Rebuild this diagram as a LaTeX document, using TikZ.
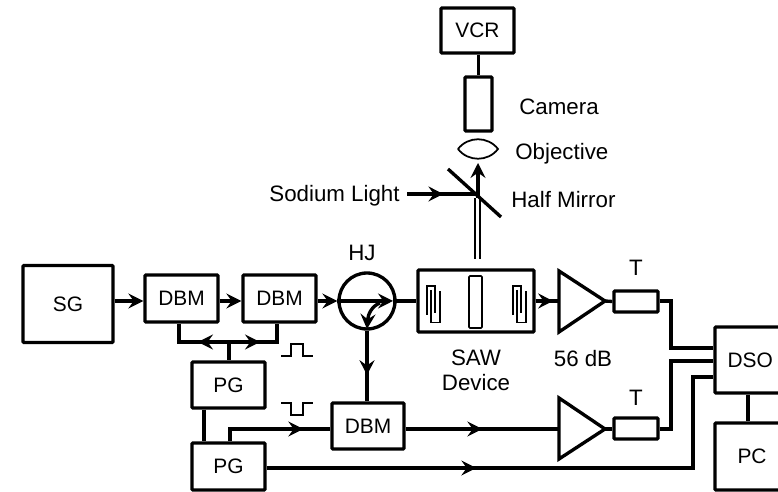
\documentclass[tikz,border=0pt]{standalone}
\usepackage{fontspec}
\setmainfont{Liberation Sans}
\usetikzlibrary{arrows.meta,decorations.markings}
\tikzset{
  blk/.style={draw, line width=1.9pt, rounded corners=0.6pt, inner sep=0pt, font=\fontsize{11.9}{14}\selectfont},
  lbl/.style={inner sep=0pt, font=\fontsize{12.7}{14}\selectfont},
  wire/.style={line width=1.9pt},
  sig/.style={line width=1.9pt, -{Stealth[length=8.5pt,width=8.5pt,inset=3pt]}},
  midtip/.style={line width=1.9pt, postaction={decorate}, decoration={markings,
    mark=at position #1 with {\arrow{Stealth[length=8.5pt,width=8.5pt,inset=3pt]}}}},
  fine/.style={line width=0.7pt}
}
\begin{document}
\begin{tikzpicture}[x=0.02cm,y=-0.02cm]
  \useasboundingbox (0,0) rectangle (778,492);
  \clip (0,0) rectangle (778,492);

  % ---------------- blocks ----------------
  \node[blk, minimum width=1.8cm, minimum height=1.54cm] (sg) at (68,304) {SG};
  \node[blk, minimum width=1.46cm, minimum height=0.94cm] (dbmA) at (181.5,298.5) {DBM};
  \node[blk, minimum width=1.46cm, minimum height=0.94cm] (dbmB) at (279.5,298.5) {DBM};
  \node[blk, minimum width=1.46cm, minimum height=0.92cm] (pgA) at (228.5,385) {PG};
  \node[blk, minimum width=1.46cm, minimum height=0.94cm] (pgB) at (228.5,466.5) {PG};
  \node[blk, minimum width=1.44cm, minimum height=0.92cm] (dbmC) at (368,426) {DBM};
  \node[blk, circle, minimum size=1.12cm] (hj) at (367,301) {};
  \node[blk, minimum width=2.32cm, minimum height=1.24cm] (saw) at (476,301) {};
  \node[blk, line width=0.9pt, minimum width=0.26cm, minimum height=1.04cm] (gate) at (475.5,302) {};
  \node[blk, minimum width=0.88cm, minimum height=0.42cm] (tA) at (636,301.5) {};
  \node[blk, minimum width=0.88cm, minimum height=0.42cm] (tB) at (636,428.5) {};
  \node[blk, minimum width=1.6cm, minimum height=1.32cm, text width=1.3cm, align=left] (dso) at (755,360) {\hspace*{0.1cm}DSO};
  \node[blk, minimum width=1.6cm, minimum height=1.34cm, text width=1.3cm, align=left] (pc) at (755,456.5) {\hspace*{0.3cm}PC};
  \node[blk, minimum width=1.46cm, minimum height=0.9cm] (vcr) at (477.5,30.5) {VCR};
  \node[blk, minimum width=0.54cm, minimum height=1.08cm] (camera) at (478.5,104) {};

  % ---------------- amplifiers ----------------
  \coordinate (ampAin) at (559,301);
  \coordinate (ampAout) at (605,301);
  \coordinate (ampBin) at (559,429);
  \coordinate (ampBout) at (605,429);
  \draw[wire, line join=miter] (559,271) -- (ampAout) -- (559,332) -- cycle;
  \draw[wire, line join=miter] (559,398) -- (ampBout) -- (559,459) -- cycle;

  % ---------------- transducers on the device ----------------
  \foreach \dx in {0,86} {
    \begin{scope}[xshift=\dx*0.02cm]
      \draw[fine] (427,315) -- (427,286) -- (435,286) -- (435,313);
      \draw[fine] (431,290) -- (431,322.5) -- (440,322.5) -- (440,291);
    \end{scope}
  }

  % ---------------- top row ----------------
  \draw[sig] (sg.east |- hj) -- (dbmA.west |- hj);
  \draw[sig] (dbmA.east |- hj) -- (dbmB.west |- hj);
  \draw[sig] (dbmB.east |- hj) -- (hj.west);
  \coordinate (hjTip) at (393,301);
  \draw[sig] (hj.west) -- (hjTip);
  \draw[wire] (hjTip) -- (saw.west);
  \coordinate (curveBeg) at (380,303);
  \coordinate (curveEnd) at (367,329);
  \draw[sig] (curveBeg) .. controls (372,306) and (368,314) .. (curveEnd);
  \draw[midtip=0.63] (hj.south) -- (dbmC.north -| hj);
  \draw[midtip=0.75] (saw.east) -- (ampAin);
  \draw[wire] (ampAout) -- (tA.west);
  \coordinate (kneeA) at (671,301);
  \coordinate (kneeB) at (671,429);
  \draw[wire] (tA.east |- kneeA) -- (kneeA) -- (671,348) -- (dso.west |- 0,348);
  \draw[wire] (tB.east |- kneeB) -- (kneeB) -- (671,361) -- (dso.west |- 0,361);
  \draw[wire] (ampBout) -- (tB.west |- ampBout);
  \draw[midtip=0.5] (dbmC.east |- ampBin) -- (ampBin);

  % ---------------- pulse generators ----------------
  \coordinate (busL) at (179,342);
  \coordinate (busM) at (229,342);
  \coordinate (busR) at (277,342);
  \draw[wire] (dbmA.south -| busL) -- (busL) -- (busR) -- (dbmB.south -| busR);
  \draw[wire] (busM) -- (pgA.north -| busM);
  \draw[sig] (busM) -- (198,342);
  \draw[sig] (busM) -- (260,342);
  \draw[wire] (pgA.south -| 204,0) -- (pgB.north -| 204,0);
  \coordinate (pgUp) at (230,429);
  \draw[midtip=0.76] (pgB.north -| pgUp) -- (pgUp) -- (dbmC.west |- pgUp);
  \coordinate (scopeUp) at (693,468);
  \draw[midtip=0.39] (pgB.east |- scopeUp) -- (scopeUp) -- (693,377) -- (dso.west |- 0,377);
  \draw[wire] (dso.south -| 748,0) -- (pc.north -| 748,0);
  \draw[fine] (281,356) -- (291,356) -- (291,344) -- (303,344) -- (303,356) -- (313,356);
  \draw[fine] (281,403) -- (291,403) -- (291,415) -- (303,415) -- (303,403) -- (313,403);

  % ---------------- optics ----------------
  \draw[wire] (vcr.south -| camera) -- (camera.north);
  \coordinate (lensL) at (458,149);
  \coordinate (lensR) at (498,149);
  \draw[line width=1pt] (lensL) .. controls (468,136) and (488,136) .. (lensR)
    .. controls (488,162) and (468,162) .. (lensL);
  \coordinate (mirrorA) at (448,169);
  \coordinate (mirrorB) at (501,217);
  \draw[wire] (mirrorA) -- (mirrorB);
  \coordinate (mirrorHit) at (477,194);
  \coordinate (lightBeg) at (407,194);
  \draw[midtip=0.52] (lightBeg) -- (mirrorHit);
  \draw[line width=1.3pt] (475,198) -- (475,259);
  \draw[line width=1.3pt] (480,198) -- (480,259);
  \coordinate (beamTop) at (478,163);
  \draw[sig] (478,198) -- (beamTop);

  % ---------------- labels ----------------
  \node[lbl] (hjText) at (362,253) {HJ};
  \node[lbl] (sawTextA) at (476,358) {SAW};
  \node[lbl] (sawTextB) at (476,383) {Device};
  \node[lbl] (gainText) at (583,359) {56 dB};
  \node[lbl] (tAText) at (636,268) {T};
  \node[lbl] (tBText) at (636,398) {T};
  \node[lbl, anchor=west] (camText) at (519,107) {Camera};
  \node[lbl, anchor=west] (objText) at (515,154) {Objective};
  \node[lbl, anchor=west] (halfText) at (511,200) {Half Mirror};
  \node[lbl, anchor=east] (lightText) at (400,196) {Sodium Light};
\end{tikzpicture}
\end{document}
